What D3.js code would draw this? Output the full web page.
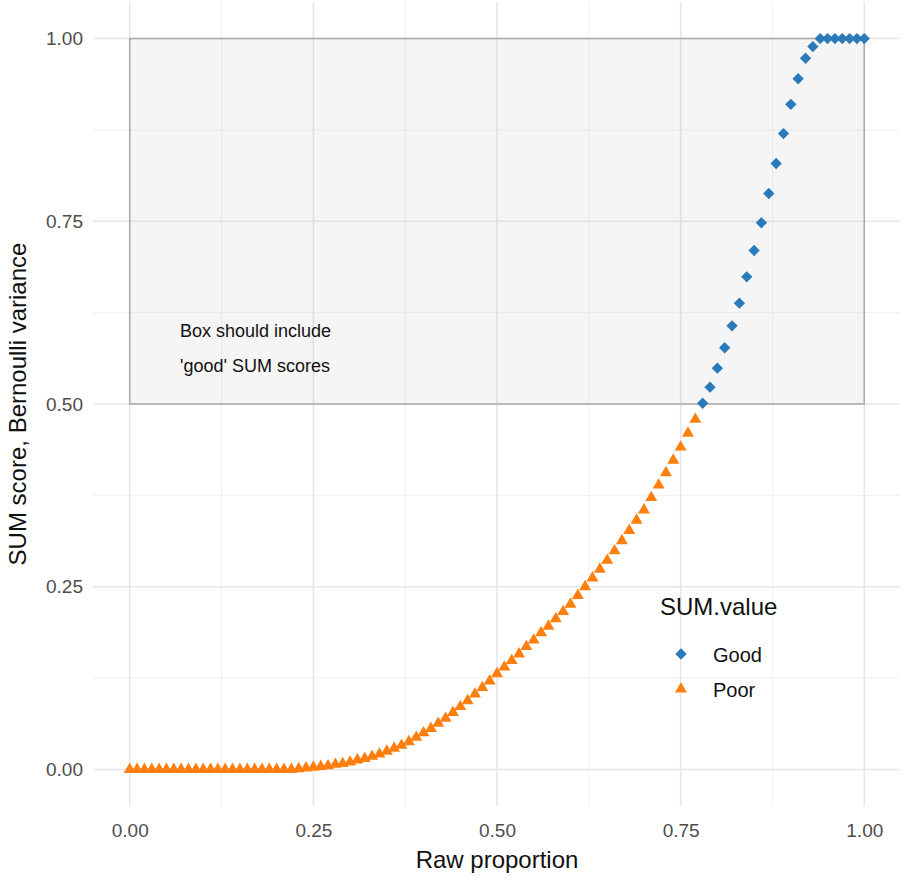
<!DOCTYPE html>
<html>
<head>
<meta charset="utf-8">
<script src="https://cdn.jsdelivr.net/npm/d3@7"></script>
<style>
  body { margin: 0; background: #fff; }
  text { font-family: Arial, "Liberation Sans", sans-serif; }
</style>
</head>
<body>
<svg id="chart"></svg>
<script>
// raw proportions 0.00 .. 1.00 step 0.01
var rawProportion = d3.range(0, 101).map(function (i) { return i / 100; });

var poorValues = [
  0,0,0,0,0,0,0,0,0,0,0,0,0,0,0,0,0,0,0,0,0,0,0,
  0.001,0.002,0.003,0.004,0.005,0.007,0.008,0.010,0.013,0.015,
  0.018,0.021,0.025,0.029,0.033,0.038,0.044,0.050,0.056,0.063,
  0.070,0.078,0.086,0.094,0.103,0.112,0.121,0.131,0.140,0.149,
  0.158,0.168,0.177,0.187,0.196,0.206,0.216,0.226,0.238,0.250,
  0.262,0.274,0.286,0.299,0.313,0.327,0.341,0.355,0.372,0.389,
  0.406,0.423,0.441,0.460,0.479
];
var goodValues = [
  0.501,0.523,0.549,0.577,0.607,0.638,0.674,0.710,0.748,0.788,
  0.829,0.870,0.910,0.945,0.973,0.989,1,1,1,1,1,1,1
];
var xTicks = [0, 0.25, 0.5, 0.75, 1];
var yTicks = [0, 0.25, 0.5, 0.75, 1];

var points = rawProportion.map(function (p, i) {
  var poor = i < poorValues.length;
  return { x: p, y: poor ? poorValues[i] : goodValues[i - poorValues.length], type: poor ? "Poor" : "Good" };
});

var width = 900, height = 880;
var svg = d3.select("#chart").attr("width", width).attr("height", height);

var xScale = d3.scaleLinear().domain([-0.05, 1.05]).range([93, 901]);
var yScale = d3.scaleLinear().domain([-0.05, 1.05]).range([806, 2]);

var colors = { Good: "#2b7bba", Poor: "#ff7f0e" };
var diamond = d3.symbol().type(d3.symbolSquare).size(64);
var triangle = d3.symbol().type(d3.symbolTriangle).size(62);

// grid
var grid = svg.append("g");
var minorX = [0.125, 0.375, 0.625, 0.875];
grid.selectAll(".minx").data(minorX).enter().append("line")
  .attr("x1", xScale).attr("x2", xScale).attr("y1", 2).attr("y2", 806)
  .attr("stroke", "#f0f0f0").attr("stroke-width", 1);
grid.selectAll(".miny").data(minorX).enter().append("line")
  .attr("y1", yScale).attr("y2", yScale).attr("x1", 93).attr("x2", 901)
  .attr("stroke", "#f0f0f0").attr("stroke-width", 1);
grid.selectAll(".majx").data(xTicks).enter().append("line")
  .attr("x1", xScale).attr("x2", xScale).attr("y1", 2).attr("y2", 806)
  .attr("stroke", "#e6e6e6").attr("stroke-width", 1.6);
grid.selectAll(".majy").data(yTicks).enter().append("line")
  .attr("y1", yScale).attr("y2", yScale).attr("x1", 93).attr("x2", 901)
  .attr("stroke", "#e6e6e6").attr("stroke-width", 1.6);

// box
svg.append("rect")
  .attr("x", xScale(0)).attr("y", yScale(1))
  .attr("width", xScale(1) - xScale(0)).attr("height", yScale(0.5) - yScale(1))
  .attr("fill", "#bbb").attr("fill-opacity", 0.15)
  .attr("stroke", "#aaa").attr("stroke-width", 1.5);

svg.append("text").attr("x", 180).attr("y", 337).text("Box should include")
  .attr("font-size", 18).attr("fill", "#111");
svg.append("text").attr("x", 180).attr("y", 372).text("'good' SUM scores")
  .attr("font-size", 18).attr("fill", "#111");

// points
svg.append("g").selectAll("path").data(points).enter().append("path")
  .attr("transform", function (d) {
    return "translate(" + xScale(d.x) + "," + yScale(d.y) + ")" + (d.type === "Good" ? " rotate(45)" : "");
  })
  .attr("d", function (d) { return d.type === "Good" ? diamond() : triangle(); })
  .attr("fill", function (d) { return colors[d.type]; });

// axes
var xAxis = svg.append("g").attr("transform", "translate(0,806)")
  .call(d3.axisBottom(xScale).tickValues(xTicks).tickFormat(d3.format(".2f")).tickSize(0).tickPadding(18));
var yAxis = svg.append("g").attr("transform", "translate(93,0)")
  .call(d3.axisLeft(yScale).tickValues(yTicks).tickFormat(d3.format(".2f")).tickSize(0).tickPadding(10));
[xAxis, yAxis].forEach(function (a) {
  a.select(".domain").remove();
  a.selectAll("text").attr("font-size", 19).attr("fill", "#4d4d4d")
    .attr("font-family", "Arial, 'Liberation Sans', sans-serif");
});

svg.append("text").attr("x", 497).attr("y", 868).attr("text-anchor", "middle")
  .attr("font-size", 24).attr("fill", "#111").text("Raw proportion");
svg.append("text").attr("transform", "translate(26,404) rotate(-90)").attr("text-anchor", "middle")
  .attr("font-size", 24).attr("fill", "#111").text("SUM score, Bernoulli variance");

// legend
var legend = svg.append("g");
legend.append("text").attr("x", 660).attr("y", 615).attr("font-size", 24).attr("fill", "#111").text("SUM.value");
legend.append("path").attr("transform", "translate(681,654) rotate(45)").attr("d", diamond()).attr("fill", colors.Good);
legend.append("path").attr("transform", "translate(681,689)").attr("d", triangle()).attr("fill", colors.Poor);
legend.append("text").attr("x", 713).attr("y", 662).attr("font-size", 20).attr("fill", "#111").text("Good");
legend.append("text").attr("x", 713).attr("y", 697).attr("font-size", 20).attr("fill", "#111").text("Poor");
</script>
</body>
</html>
